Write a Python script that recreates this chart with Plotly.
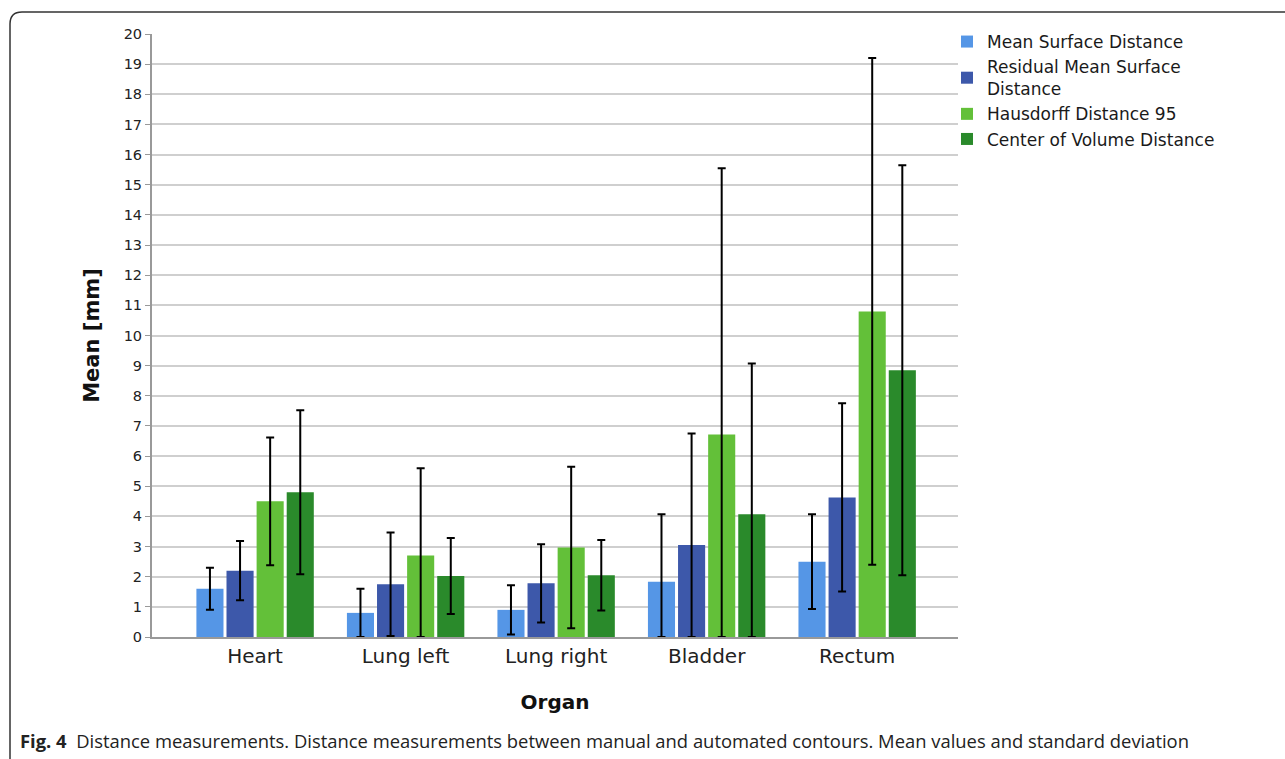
import plotly.graph_objects as go

organs = ["Heart", "Lung left", "Lung right", "Bladder", "Rectum"]
series_names = ["Mean Surface Distance", "Residual Mean Surface<br>Distance",
                "Hausdorff Distance 95", "Center of Volume Distance"]
colors = ["#5596e6", "#3d58aa", "#63c039", "#2a8a2b"]

msd_mean = [1.6, 0.8, 0.9, 1.83, 2.5]
msd_sd = [0.7, 0.8, 0.82, 2.24, 1.57]
rmsd_mean = [2.2, 1.75, 1.78, 3.05, 4.63]
rmsd_sd = [0.98, 1.72, 1.3, 3.7, 3.12]
hd95_mean = [4.5, 2.7, 2.97, 6.72, 10.8]
hd95_sd = [2.12, 2.9, 2.68, 8.83, 8.4]
cov_mean = [4.8, 2.02, 2.05, 4.07, 8.85]
cov_sd = [2.72, 1.26, 1.17, 5.0, 6.8]

means = [msd_mean, rmsd_mean, hd95_mean, cov_mean]
sds = [msd_sd, rmsd_sd, hd95_sd, cov_sd]

W, H = 1285, 759
L, R, T, B = 152, 327, 34, 122
pw, ph = W - L - R, H - T - B

def px(x):
    return (x - L) / pw

def py(y):
    return (H - B - y) / ph

fig = go.Figure()
for name, col, m, s in zip(series_names, colors, means, sds):
    minus = [min(sv, mv) for sv, mv in zip(s, m)]
    fig.add_trace(go.Bar(
        x=organs, y=m, name=name, marker=dict(color=col, line=dict(width=0)),
        error_y=dict(type="data", symmetric=False, array=s, arrayminus=minus,
                     color="black", thickness=2, width=4),
    ))

r = 12
border = (f"M {px(10)},{py(H + 5)} L {px(10)},{py(12 + r)} "
          f"Q {px(10)},{py(12)} {px(10 + r)},{py(12)} L {px(W + 5)},{py(12)}")

fig.update_layout(
    width=W, height=H,
    margin=dict(l=L, r=R, t=T, b=B),
    paper_bgcolor="white", plot_bgcolor="white",
    barmode="group", bargap=0.2, bargroupgap=0.1,
    font=dict(family="DejaVu Sans", color="#222"),
    showlegend=True,
    legend=dict(x=px(947), y=py(24), xanchor="left", yanchor="top",
                font=dict(size=17, color="#1a1a1a"), tracegroupgap=0,
                bgcolor="rgba(0,0,0,0)", itemwidth=30),
    xaxis=dict(range=[-0.685, 4.67], showgrid=False, showline=True,
               linecolor="#999", linewidth=2, ticks="",
               tickfont=dict(size=20, color="#222"),
               title=dict(text="<b>Organ</b>", font=dict(size=20, color="#111"),
                          standoff=28)),
    yaxis=dict(range=[0, 20], dtick=1, showgrid=True, gridcolor="#cfcfcf",
               gridwidth=2, showline=True, linecolor="#999", linewidth=2,
               ticks="outside", ticklen=5, tickcolor="#999", zeroline=False,
               tickfont=dict(size=14.5, color="#222"),
               title=dict(text="<b>Mean [mm]</b>", font=dict(size=21, color="#111"),
                          standoff=18)),
    shapes=[dict(type="path", path=border, xref="paper", yref="paper",
                 line=dict(color="#333", width=1.5), layer="below")],
    annotations=[dict(
        text="<b>Fig. 4</b>  Distance measurements. Distance measurements between manual and "
             "automated contours. Mean values and standard deviation",
        x=px(18), y=py(740), xref="paper", yref="paper",
        xanchor="left", yanchor="middle", showarrow=False,
        font=dict(family="Open Sans", size=18.4, color="#222"))],
)

fig.write_html("out.html", config={"displayModeBar": False},
               post_script="document.body.style.margin='0px';")
